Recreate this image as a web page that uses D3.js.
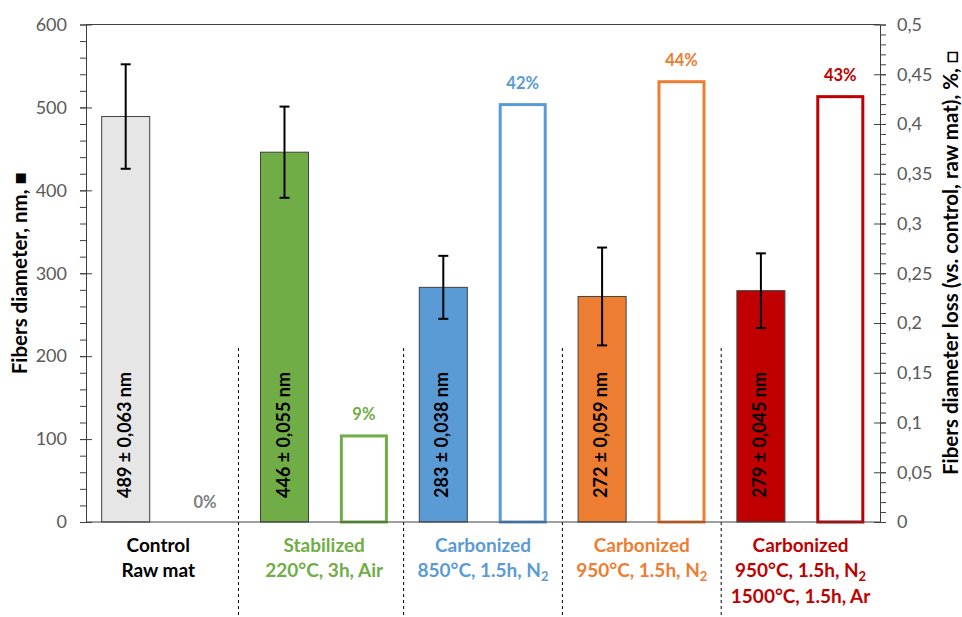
<!DOCTYPE html>
<html><head><meta charset="utf-8">
<script src="https://cdn.jsdelivr.net/npm/d3@7"></script>
<style>body{margin:0;background:#fff}svg{display:block}</style>
</head><body><svg id="c" width="962" height="617"></svg>
<script>
// ---- data ----
const groups = ["g1","g2","g3","g4","g5"];
const groupLine1 = ["Control","Stabilized","Carbonized","Carbonized","Carbonized"];
const groupLine2 = ["Raw mat","220°C, 3h, Air","850°C, 1.5h, N|2","950°C, 1.5h, N|2","950°C, 1.5h, N|2"];
const groupLine3 = ["","","","","1500°C, 1.5h, Ar"];
const diameter = [489, 446, 283, 272, 279];
const diameterErr = [63, 55, 38, 59, 45];
const diameterLabel = ["489 ± 0,063 nm","446 ± 0,055 nm","283 ± 0,038 nm","272 ± 0,059 nm","279 ± 0,045 nm"];
const loss = [0, 0.088, 0.421, 0.444, 0.429];
const lossLabel = ["0%","9%","42%","44%","43%"];
const groupColor = ["#e7e6e6","#70ad47","#5b9bd5","#ed7d31","#c00000"];
const textColor = ["#000000","#70ad47","#5b9bd5","#ed7d31","#c00000"];
const lossTextColor = ["#7f7f7f","#70ad47","#5b9bd5","#ed7d31","#c00000"];
const separators = [1.92, 4, 6, 8]; // in slot units (10 slots)
const leftTicks = [0,100,200,300,400,500,600];
const rightTicks = d3.range(0,11).map(i=>i/20);

// ---- layout ----
const L = 86, R = 880, T = 24.5, B = 522;
const svg = d3.select("#c");
const font = "Lato, 'Liberation Sans', sans-serif";

const x = d3.scaleBand().domain(groups).range([L,R]).padding(0);
const xi = d3.scaleBand().domain(["d","l"]).range([0,x.bandwidth()]).paddingInner(0.395).paddingOuter(0.1975);
const xs = d3.scaleLinear().domain([0,10]).range([L,R]);
const yL = d3.scaleLinear().domain([0,600]).range([B,T]);
const yR = d3.scaleLinear().domain([0,0.5]).range([B,T]);

// separators
svg.append("g").selectAll("line").data(separators).join("line")
  .attr("x1",d=>xs(d)).attr("x2",d=>xs(d)).attr("y1",348).attr("y2",617)
  .attr("stroke","#000").attr("stroke-width",1).attr("stroke-dasharray","3,3");

// filled bars
svg.append("g").selectAll("rect").data(diameter).join("rect")
  .attr("x",(d,i)=>x(groups[i])+xi("d")).attr("width",xi.bandwidth())
  .attr("y",d=>yL(d)).attr("height",d=>B-yL(d))
  .attr("fill",(d,i)=>groupColor[i]).attr("stroke","#404040").attr("stroke-width",1);

// outline bars
svg.append("g").selectAll("rect").data(loss).join("rect")
  .filter(d=>d>0)
  .attr("x",(d)=>x(groups[loss.indexOf(d)])+xi("l")+1.5).attr("width",xi.bandwidth()-3)
  .attr("y",d=>yR(d)+1.5).attr("height",d=>B-yR(d)-1.5)
  .attr("fill","#fff").attr("stroke",d=>groupColor[loss.indexOf(d)]).attr("stroke-width",3);

// error bars
const eb = svg.append("g").attr("stroke","#000").attr("stroke-width",2);
diameter.forEach((v,i)=>{
  const cx = x(groups[i])+xi("d")+xi.bandwidth()/2;
  const hi = yL(v+diameterErr[i]), lo = yL(v-diameterErr[i]);
  eb.append("line").attr("x1",cx).attr("x2",cx).attr("y1",hi).attr("y2",lo);
  eb.append("line").attr("x1",cx-5).attr("x2",cx+5).attr("y1",hi).attr("y2",hi);
  eb.append("line").attr("x1",cx-5).attr("x2",cx+5).attr("y1",lo).attr("y2",lo);
});

// labels inside filled bars
svg.append("g").selectAll("text").data(diameterLabel).join("text")
  .attr("transform",(d,i)=>`translate(${x(groups[i])+xi("d")+xi.bandwidth()/2+5},${B-24}) rotate(-90)`)
  .attr("font-family",font).attr("font-weight","bold").attr("font-size",18).attr("fill","#000")
  .text(d=>d);

// loss labels
svg.append("g").selectAll("text").data(loss).join("text")
  .attr("x",(d,i)=>x(groups[i])+xi("l")+xi.bandwidth()/2)
  .attr("y",d=>yR(d)-14)
  .attr("text-anchor","middle").attr("font-family",font).attr("font-weight","bold").attr("font-size",16.5)
  .attr("fill",(d,i)=>lossTextColor[i]).text((d,i)=>lossLabel[i]);

// axes
const axisColor = "#404040";
function styleAxis(g){ g.select(".domain").attr("stroke",axisColor); g.selectAll(".tick line").attr("stroke",axisColor);
  g.selectAll("text").attr("font-family",font).attr("font-size",18).attr("fill","#595959"); }
// left
svg.append("g").attr("transform",`translate(${L},0)`)
  .call(d3.axisLeft(yL).tickValues(d3.range(0,601,20)).tickSize(6).tickSizeOuter(0).tickFormat(""))
  .call(styleAxis);
svg.append("g").attr("transform",`translate(${L},0)`)
  .call(d3.axisRight(yL).tickValues(leftTicks).tickSize(6).tickFormat(""))
  .call(g=>g.select(".domain").remove()).call(styleAxis);
svg.append("g").attr("transform",`translate(${L},0)`)
  .call(d3.axisLeft(yL).tickValues(leftTicks).tickSize(6).tickPadding(13))
  .call(g=>g.select(".domain").remove()).call(styleAxis);
// right
const fmtR = d=> d===0 ? "0" : d3.format(".2~f")(d).replace(".",",");
svg.append("g").attr("transform",`translate(${R},0)`)
  .call(d3.axisRight(yR).tickValues(d3.range(0,51).map(i=>i/100)).tickSize(6).tickSizeOuter(0).tickFormat(""))
  .call(styleAxis);
svg.append("g").attr("transform",`translate(${R},0)`)
  .call(d3.axisLeft(yR).tickValues(rightTicks).tickSize(6).tickFormat(""))
  .call(g=>g.select(".domain").remove()).call(styleAxis);
svg.append("g").attr("transform",`translate(${R},0)`)
  .call(d3.axisRight(yR).tickValues(rightTicks).tickSize(6).tickPadding(11).tickFormat(fmtR))
  .call(g=>g.select(".domain").remove()).call(styleAxis);
// bottom and top lines
svg.append("line").attr("x1",L).attr("x2",R).attr("y1",B).attr("y2",B).attr("stroke",axisColor);
svg.append("line").attr("x1",L).attr("x2",R).attr("y1",T).attr("y2",T).attr("stroke",axisColor);

// category labels
function addLine(g, str, y, color){
  const t = g.append("text").attr("y",y).attr("text-anchor","middle").attr("fill",color)
    .attr("font-family",font).attr("font-weight","bold").attr("font-size",19);
  const parts = str.split("|");
  t.append("tspan").text(parts[0]);
  if(parts[1]){ t.append("tspan").attr("font-size",13).attr("dy",4).text(parts[1]); }
}
groups.forEach((gk,i)=>{
  const cx = i===0 ? (L+xs(separators[0]))/2 - 4 : x(gk)+x.bandwidth()/2;
  const g = svg.append("g").attr("transform",`translate(${cx},0)`);
  addLine(g, groupLine1[i], 552, textColor[i]);
  addLine(g, groupLine2[i], 577, textColor[i]);
  if(groupLine3[i]) addLine(g, groupLine3[i], 603, textColor[i]);
});

// axis titles
svg.append("text").attr("transform",`translate(27,${(T+B)/2}) rotate(-90)`)
  .attr("text-anchor","middle").attr("font-family",font).attr("font-weight","bold").attr("font-size",20.5)
  .text("Fibers diameter, nm, ■");
svg.append("text").attr("transform",`translate(958,263) rotate(-90)`)
  .attr("text-anchor","middle").attr("font-family",font).attr("font-weight","bold").attr("font-size",20.5)
  .text("Fibers diameter loss (vs. control, raw mat), %, □");
</script></body></html>
